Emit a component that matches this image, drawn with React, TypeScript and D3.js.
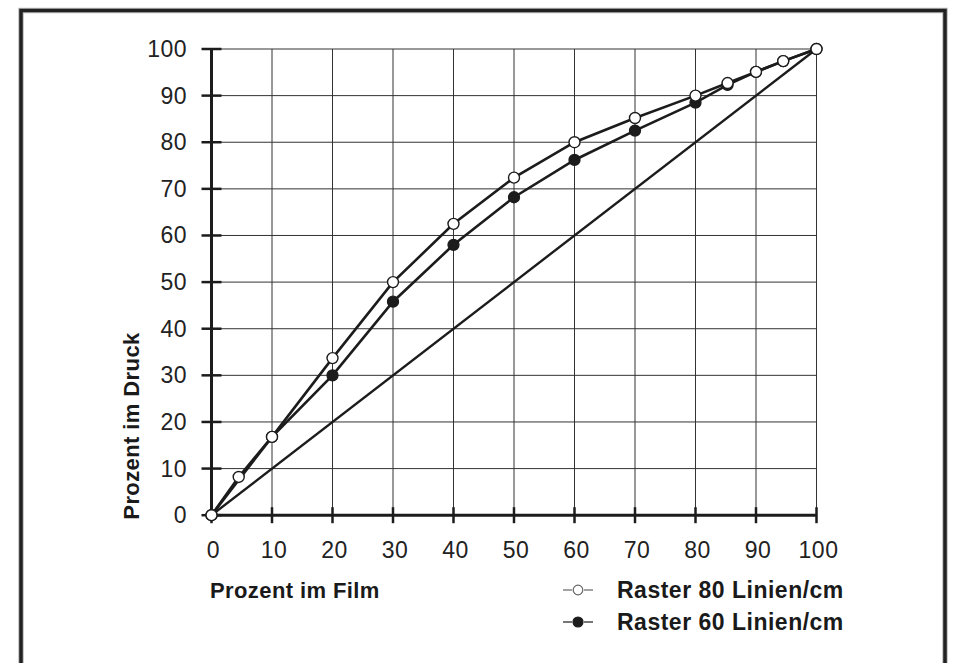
import React from "react";
import * as d3 from "d3";

const xTicks = [0, 10, 20, 30, 40, 50, 60, 70, 80, 90, 100];
const yTicks = [0, 10, 20, 30, 40, 50, 60, 70, 80, 90, 100];

const film80 = [0, 4.5, 10, 20, 30, 40, 50, 60, 70, 80, 85.3, 90, 94.5, 100];
const druck80 = [0, 8.2, 16.8, 33.7, 50, 62.5, 72.4, 80, 85.2, 90, 92.7, 95.1, 97.4, 100];

const film60 = [0, 10, 20, 30, 40, 50, 60, 70, 80, 85.3, 90, 94.5, 100];
const druck60 = [0, 16.8, 30, 45.8, 58, 68.2, 76.2, 82.5, 88.5, 92.3, 95.1, 97.4, 100];

const diagFilm = [0, 100];
const diagDruck = [0, 100];

const legendLabels = ["Raster 80 Linien/cm", "Raster 60 Linien/cm"];
const xLabel = "Prozent im Film";
const yLabel = "Prozent im Druck";

const W = 954;
const H = 663;
const FONT = "'Liberation Sans', Arial, Helvetica, sans-serif";

export default function App() {
  const x = d3.scaleLinear().domain([0, 100]).range([211.5, 816.5]);
  const y = d3.scaleLinear().domain([0, 100]).range([515.2, 49]);
  const line = d3
    .line<[number, number]>()
    .x((d) => x(d[0]))
    .y((d) => y(d[1]));

  const s80: [number, number][] = film80.map((f, i) => [f, druck80[i]]);
  const s60: [number, number][] = film60.map((f, i) => [f, druck60[i]]);
  const diag: [number, number][] = diagFilm.map((f, i) => [f, diagDruck[i]]);

  const ink = "#1c1c1c";

  return (
    <svg
      width={W}
      height={H}
      style={{ position: "absolute", left: 0, top: 0, background: "#fff" }}
    >
      {/* frame */}
      <path
        d={`M21,${H + 5} V10.5 H945 V${H + 5}`}
        fill="none"
        stroke="#bbb"
        strokeWidth={5.5}
      />
      <path
        d={`M21,${H + 5} V10.5 H945 V${H + 5}`}
        fill="none"
        stroke="#222"
        strokeWidth={3.5}
      />

      {/* grid */}
      {xTicks.slice(1).map((t) => (
        <line key={"gx" + t} x1={x(t)} x2={x(t)} y1={y(0)} y2={y(100)} stroke="#333" strokeWidth={1} />
      ))}
      {yTicks.slice(1).map((t) => (
        <line key={"gy" + t} x1={x(0)} x2={x(100)} y1={y(t)} y2={y(t)} stroke="#333" strokeWidth={1} />
      ))}

      {/* diagonal */}
      <path d={line(diag) || ""} fill="none" stroke={ink} strokeWidth={2.4} />

      {/* axes */}
      <line x1={x(0)} x2={x(0)} y1={y(0)} y2={y(100) - 1} stroke={ink} strokeWidth={3} />
      <line x1={x(0)} x2={x(100)} y1={y(0)} y2={y(0)} stroke={ink} strokeWidth={3} />
      {yTicks.map((t) => (
        <line key={"ty" + t} x1={x(0) - 10} x2={x(0) + 10} y1={y(t)} y2={y(t)} stroke={ink} strokeWidth={2.5} />
      ))}
      {xTicks.map((t) => (
        <line key={"tx" + t} x1={x(t)} x2={x(t)} y1={y(0) - 8} y2={y(0) + 8} stroke={ink} strokeWidth={2.5} />
      ))}

      {/* tick labels */}
      {yTicks.map((t) => (
        <text
          key={"ly" + t}
          x={187}
          y={y(t) + 8}
          textAnchor="end"
          fontFamily={FONT}
          fontSize={23}
          letterSpacing={0.5}
          fill="#222"
        >
          {t}
        </text>
      ))}
      {xTicks.map((t) => (
        <text
          key={"lx" + t}
          x={x(t) + 2}
          y={558}
          textAnchor="middle"
          fontFamily={FONT}
          fontSize={23}
          letterSpacing={0.5}
          fill="#222"
        >
          {t}
        </text>
      ))}

      {/* series 60 (filled) */}
      <path d={line(s60) || ""} fill="none" stroke={ink} strokeWidth={2.6} />
      {s60.map((d, i) => (
        <circle key={"p60" + i} cx={x(d[0])} cy={y(d[1])} r={5.5} fill={ink} stroke={ink} strokeWidth={1.3} />
      ))}

      {/* series 80 (open) */}
      <path d={line(s80) || ""} fill="none" stroke={ink} strokeWidth={2.6} />
      {s80.map((d, i) => (
        <circle key={"p80" + i} cx={x(d[0])} cy={y(d[1])} r={5.5} fill="#fff" stroke={ink} strokeWidth={1.4} />
      ))}

      {/* axis titles */}
      <text
        x={210}
        y={598}
        fontFamily={FONT}
        fontWeight="bold"
        fontSize={22}
        letterSpacing={0.4}
        fill="#1a1a1a"
      >
        {xLabel}
      </text>
      <text
        transform={`translate(139,426) rotate(-90)`}
        textAnchor="middle"
        fontFamily={FONT}
        fontWeight="bold"
        fontSize={22}
        letterSpacing={0.4}
        fill="#1a1a1a"
      >
        {yLabel}
      </text>

      {/* legend */}
      {legendLabels.map((lab, i) => {
        const cy = 590 + i * 32;
        const filled = i === 1;
        const stroke = filled ? ink : "#666";
        return (
          <g key={"lg" + i}>
            <line x1={563} x2={572} y1={cy} y2={cy} stroke={stroke} strokeWidth={1.2} />
            <line x1={584} x2={593} y1={cy} y2={cy} stroke={stroke} strokeWidth={1.2} />
            <circle cx={578} cy={cy} r={filled ? 5 : 4.8} fill={filled ? ink : "#fff"} stroke={stroke} strokeWidth={1.2} />
            <text
              x={617}
              y={cy + 8}
              fontFamily={FONT}
              fontWeight="bold"
              fontSize={23}
              letterSpacing={0.5}
              fill="#1a1a1a"
            >
              {lab}
            </text>
          </g>
        );
      })}
    </svg>
  );
}
